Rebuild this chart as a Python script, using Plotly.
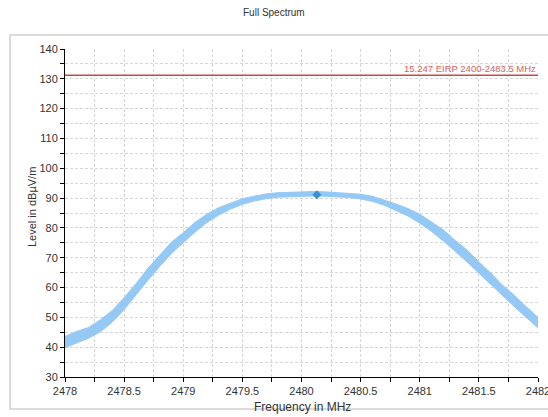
import plotly.graph_objects as go

# Measured spectrum band (upper / lower envelope of the trace), 0.1 MHz steps
freq_mhz = [2478.0, 2478.1, 2478.2, 2478.3, 2478.4, 2478.5, 2478.6, 2478.7, 2478.8, 2478.9,
            2479.0, 2479.1, 2479.2, 2479.3, 2479.4, 2479.5, 2479.6, 2479.7, 2479.8, 2479.9,
            2480.0, 2480.1, 2480.2, 2480.3, 2480.4, 2480.5, 2480.6, 2480.7, 2480.8, 2480.9,
            2481.0, 2481.1, 2481.2, 2481.3, 2481.4, 2481.5, 2481.6, 2481.7, 2481.8, 2481.9,
            2482.0]
level_upper = [43.6, 45.3, 46.6, 49.2, 52.3, 56.6, 61.3, 66.4, 70.8, 75.2,
               78.4, 81.9, 84.6, 86.8, 88.3, 89.8, 90.6, 91.4, 91.8, 92.0,
               92.1, 92.2, 92.1, 91.9, 91.7, 91.3, 90.6, 89.4, 88.0, 86.5,
               84.6, 82.0, 79.3, 75.8, 72.6, 68.6, 64.9, 60.8, 57.4, 53.6,
               50.0]
level_lower = [39.8, 41.5, 43.0, 45.2, 48.4, 52.6, 57.6, 62.4, 67.0, 71.4,
               75.0, 78.6, 81.8, 84.3, 86.3, 87.9, 89.0, 89.8, 90.3, 90.5,
               90.6, 90.7, 90.6, 90.5, 90.2, 89.7, 88.9, 87.6, 85.9, 84.0,
               81.6, 78.8, 75.6, 72.2, 68.6, 64.8, 61.0, 57.2, 53.6, 50.0,
               46.4]

# Peak marker
peak_freq = 2480.13
peak_level = 91.1

# Limit line
limit_level = 131.2
limit_label = "15.247 EIRP 2400-2483.5 MHz"

x_range = [2478, 2482]
y_range = [30, 140]
x_ticks = [2478, 2478.5, 2479, 2479.5, 2480, 2480.5, 2481, 2481.5, 2482]
x_ticktext = ["2478", "2478.5", "2479", "2479.5", "2480", "2480.5", "2481", "2481.5", "2482"]
y_ticks = [30, 40, 50, 60, 70, 80, 90, 100, 110, 120, 130, 140]

FONT = "Liberation Sans, Arial, sans-serif"
BAND = "#94c9f6"
GRID = "#d6d6d6"

fig = go.Figure()

# lower edge then upper edge filled between
fig.add_trace(go.Scatter(x=freq_mhz, y=level_lower, mode="lines",
                         line=dict(color=BAND, width=1), hoverinfo="skip",
                         showlegend=False))
fig.add_trace(go.Scatter(x=freq_mhz, y=level_upper, mode="lines",
                         line=dict(color=BAND, width=1), fill="tonexty",
                         fillcolor=BAND, showlegend=False))

# limit line
fig.add_trace(go.Scatter(x=x_range, y=[limit_level, limit_level], mode="lines",
                         line=dict(color="#d04646", width=1.6), showlegend=False))

# peak marker
fig.add_trace(go.Scatter(x=[peak_freq], y=[peak_level], mode="markers",
                         marker=dict(symbol="diamond", size=7, color="#3c8fd2"),
                         showlegend=False))

axis_common = dict(
    showline=True, linecolor="#000000", linewidth=1, automargin=False,
    showgrid=True, gridcolor=GRID, griddash="3px,2px", gridwidth=1,
    zeroline=False, ticks="outside", ticklen=4, tickcolor="#000000",
    tickfont=dict(family=FONT, size=11, color="#333333"),
)

fig.update_xaxes(range=x_range, tickvals=x_ticks, ticktext=x_ticktext,
                 ticklabeloverflow="allow",
                 minor=dict(dtick=0.25, tick0=2478, showgrid=True, gridcolor=GRID,
                            griddash="3px,2px", ticks="outside", ticklen=4,
                            tickcolor="#000000"),
                 **axis_common)
fig.update_yaxes(range=y_range, tickvals=y_ticks,
                 minor=dict(dtick=5, tick0=30, showgrid=True, gridcolor=GRID,
                            griddash="3px,2px", ticks="outside", ticklen=4,
                            tickcolor="#000000"),
                 **axis_common)

# inner halves of the crossing tick marks
fig.update_layout(
    xaxis2=dict(overlaying="x", range=x_range, tickvals=x_ticks, showticklabels=False,
                ticks="inside", ticklen=3, tickcolor="#000000", showgrid=False,
                zeroline=False, showline=False, automargin=False,
                minor=dict(dtick=0.25, tick0=2478, ticks="inside", ticklen=3,
                           tickcolor="#000000")),
    yaxis2=dict(overlaying="y", range=y_range, tickvals=y_ticks, showticklabels=False,
                ticks="inside", ticklen=3, tickcolor="#000000", showgrid=False,
                zeroline=False, showline=False, automargin=False,
                minor=dict(dtick=5, tick0=30, ticks="inside", ticklen=3,
                           tickcolor="#000000")),
)

L, R, T, B = 65, 10, 49, 40
W, H = 548, 417
pw, ph = W - L - R, H - T - B


def px_x(p):
    return (p - L) / pw


def px_y(p):
    return (H - B - p) / ph


fig.update_layout(
    width=W, height=H,
    margin=dict(l=L, r=R, t=T, b=B),
    paper_bgcolor="#ffffff", plot_bgcolor="#ffffff",
    font=dict(family=FONT, color="#333333"),
    showlegend=False,
    shapes=[dict(type="rect", xref="paper", yref="paper",
                 x0=px_x(10), x1=px_x(560), y0=px_y(409), y1=px_y(35),
                 line=dict(color="#cfcfcf", width=1.5), fillcolor="rgba(0,0,0,0)",
                 layer="below")],
    annotations=[
        dict(text="Full Spectrum", xref="paper", yref="paper",
             x=px_x(274), y=px_y(13), xanchor="center", yanchor="middle",
             showarrow=False, font=dict(family=FONT, size=10, color="#333333")),
        dict(text="Level in dBµV/m", xref="paper", yref="paper",
             x=px_x(32), y=px_y(207), xanchor="center", yanchor="middle",
             textangle=-90, showarrow=False,
             font=dict(family=FONT, size=11, color="#333333")),
        dict(text="Frequency in MHz", xref="paper", yref="paper",
             x=px_x(302), y=px_y(407), xanchor="center", yanchor="middle",
             showarrow=False, font=dict(family=FONT, size=12, color="#333333")),
        dict(text=limit_label, x=x_range[1], y=limit_level, xref="x", yref="y",
             xanchor="right", yanchor="bottom", showarrow=False, yshift=-1,
             font=dict(family=FONT, size=9.5, color="#d26262")),
    ],
)

fig.write_html("out.html")
